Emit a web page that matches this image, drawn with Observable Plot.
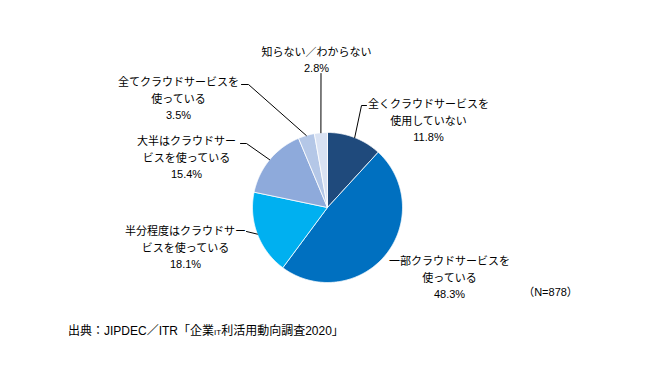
<!DOCTYPE html>
<html><head><meta charset="utf-8">
<script src="https://cdn.jsdelivr.net/npm/d3@7"></script>
<script src="https://cdn.jsdelivr.net/npm/@observablehq/plot@0.6"></script>
<style>
body{margin:0;background:#fff;font-family:"Liberation Sans","Noto Sans CJK JP",sans-serif;}
#cap{font-size:12px;padding-left:68px;line-height:16px;margin-top:3px;color:#000;}
#cap .sm{font-size:8px;}
</style>
</head><body>
<div id="chart"></div>
<div id="cap">出典：JIPDEC／ITR「企業<span class="sm">IT</span>利活用動向調査2020」</div>
<script>
// ---- data ----
const categories = ["全くクラウドサービスを使用していない","一部クラウドサービスを使っている","半分程度はクラウドサービスを使っている","大半はクラウドサービスを使っている","全てクラウドサービスを使っている","知らない／わからない"];
const values = [11.8, 48.3, 18.1, 15.4, 3.5, 2.8];
const labelLines = ["全くクラウドサービスを\n使用していない","一部クラウドサービスを\n使っている","半分程度はクラウドサー\nビスを使っている","大半はクラウドサー\nビスを使っている","全てクラウドサービスを\n使っている","知らない／わからない"];
const colors = ["#1f4a7c","#0070c0","#00b0f0","#8eaadb","#b4c7e7","#d9e2f3"];
const sampleNote = "（N=878）";

// ---- layout ----
const W = 650, H = 320;
const cx = 327, cy = 207, r = 75;
const labelPos = [[428,119],[449,276],[185,246],[186,156],[178,97],[316,58]];
const leaderPts = [[[366,105],[361,105]], null, [[246,231]], [[240,143],[246,143]], [[241,84],[248,84]], [[320.5,73]]];

const pie = d3.pie().sort(null).startAngle(0).endAngle(2*Math.PI)(values);
const pt = (a, rr) => [cx + rr*Math.sin(a), cy - rr*Math.cos(a)];

const slicePts = [];
pie.forEach((p, i) => {
  slicePts.push({x: cx, y: cy, k: categories[i]});
  const n = Math.max(2, Math.ceil((p.endAngle - p.startAngle) / 0.01));
  for (let j = 0; j <= n; j++) {
    const a = p.startAngle + (p.endAngle - p.startAngle) * j / n;
    const [x, y] = pt(a, r);
    slicePts.push({x, y, k: categories[i]});
  }
  slicePts.push({x: cx, y: cy, k: categories[i]});
});

const leaders = [];
pie.forEach((p, i) => {
  if (!leaderPts[i]) return;
  const mid = (p.startAngle + p.endAngle) / 2;
  const end = pt(mid, r);
  const pts = leaderPts[i].map(d => ({x: d[0], y: d[1], k: categories[i]}));
  pts.push({x: end[0], y: end[1], k: categories[i]});
  leaders.push(...pts);
});

const labels = categories.map((c, i) => ({
  text: labelLines[i] + "\n" + values[i].toFixed(1) + "%",
  x: labelPos[i][0], y: labelPos[i][1]
}));

const chart = Plot.plot({
  width: W, height: H,
  margin: 0,
  x: {domain: [0, W], range: [0, W], axis: null},
  y: {domain: [0, H], range: [0, H], axis: null},
  color: {domain: categories, range: colors},
  style: {fontFamily: '"Liberation Sans","Noto Sans CJK JP",sans-serif', background: "#fff"},
  marks: [
    Plot.line(slicePts, {x: "x", y: "y", z: "k", fill: "k", stroke: "#fff", strokeWidth: 0.8, curve: "linear"}),
    Plot.line(leaders, {x: "x", y: "y", z: "k", stroke: "#000", strokeWidth: 1}),
    Plot.text(labels, {x: "x", y: "y", text: "text", fontSize: 11, lineHeight: 1.5, fill: "#000", textAnchor: "middle"}),
    Plot.text([sampleNote], {x: () => 550, y: () => 292, text: d => d, fontSize: 11, fill: "#000"})
  ]
});
document.getElementById("chart").appendChild(chart);
</script>
</body></html>
